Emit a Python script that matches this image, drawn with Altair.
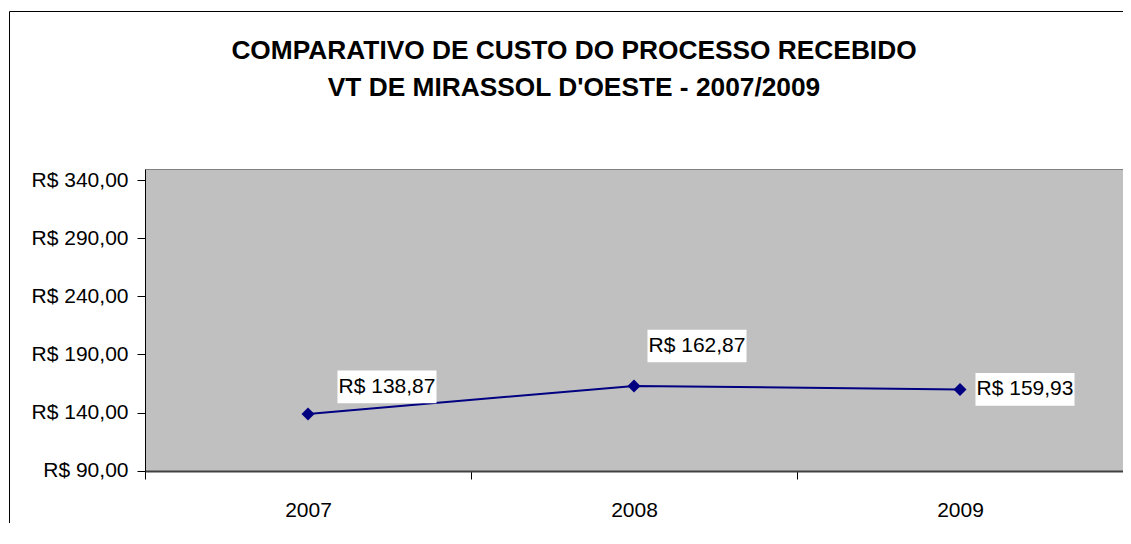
import altair as alt
import pandas as pd

# ---- data ----
years = ["2007", "2008", "2009"]
costs = [138.87, 162.87, 159.93]
y_ticks = [90, 140, 190, 240, 290, 340]
title_lines = [
    "COMPARATIVO DE CUSTO DO PROCESSO RECEBIDO",
    "VT DE MIRASSOL D'OESTE - 2007/2009",
]

labels = ["R$ " + f"{v:.2f}".replace(".", ",") for v in costs]
df = pd.DataFrame({"ano": years, "custo": costs, "rotulo": labels})

FONT = "Liberation Sans"
NAVY = "#000080"

x_enc = alt.X(
    "ano:N",
    sort=years,
    scale=alt.Scale(type="band", paddingInner=0, paddingOuter=0),
    axis=alt.Axis(
        title=None,
        labelAngle=0,
        tickBand="extent",
        grid=False,
        domainColor="#404040",
        domainWidth=2,
        tickColor="black",
        tickSize=8,
        labelFont=FONT,
        labelFontSize=21,
        labelColor="black",
        labelPadding=20,
    ),
)
y_enc = alt.Y(
    "custo:Q",
    scale=alt.Scale(domain=[89.75, 349.5], nice=False, zero=False),
    axis=alt.Axis(
        title=None,
        values=y_ticks,
        grid=False,
        labelExpr="'R$ ' + replace(format(datum.value, '.2f'), '.', ',')",
        domainColor="black",
        tickColor="black",
        tickSize=8,
        labelFont=FONT,
        labelFontSize=21,
        labelColor="black",
        labelPadding=9,
    ),
)

base = alt.Chart(df)

line = base.mark_line(color=NAVY, strokeWidth=2).encode(x=x_enc, y=y_enc)
pts = base.mark_point(shape="diamond", size=169, filled=True, color=NAVY, opacity=1).encode(
    x=x_enc, y=y_enc
)

# label offsets (style) per year
offsets = {"2007": (79, -27), "2008": (63, -40), "2009": (65, 0)}
label_layers = []
for yr in years:
    dx, dy = offsets[yr]
    sub = base.transform_filter(alt.datum.ano == yr)
    box = sub.mark_point(
        shape="M-1,-0.33L1,-0.33L1,0.33L-1,0.33Z",
        size=99 * 99,
        filled=True,
        fill="white",
        strokeWidth=0,
        opacity=1,
        xOffset=dx,
        yOffset=dy,
    ).encode(x=x_enc, y=y_enc)
    txt = sub.mark_text(
        font=FONT,
        fontSize=21,
        color="black",
        align="center",
        baseline="middle",
        xOffset=dx,
        yOffset=dy,
    ).encode(x=x_enc, y=y_enc, text="rotulo:N")
    label_layers += [box, txt]

# chart-area frame (its right and bottom sides fall outside the picture)
one = alt.Data(values=[{}])
frame = alt.Chart(one).mark_rect(
    fillOpacity=0, stroke="black", strokeWidth=1
).encode(
    x=alt.value(-135.5), x2=alt.value(1200), y=alt.value(-157.5), y2=alt.value(600)
)

chart = (
    alt.layer(frame, line, pts, *label_layers)
    .properties(
        width=978,
        height=302,
        autosize=alt.AutoSizeParams(type="none"),
        padding={"left": 137, "top": 161, "right": 0, "bottom": 52},
        title=alt.TitleParams(
            text=title_lines,
            anchor="middle",
            font=FONT,
            fontSize=26.3,
            fontWeight="bold",
            color="black",
            lineHeight=37,
            baseline="alphabetic",
            dx=-60,
            dy=111,
            offset=0,
        ),
    )
    .configure_view(fill="#C0C0C0", stroke="#808080", strokeWidth=1)
)

chart.save("out.html", embed_options={"renderer": "svg", "actions": False})
